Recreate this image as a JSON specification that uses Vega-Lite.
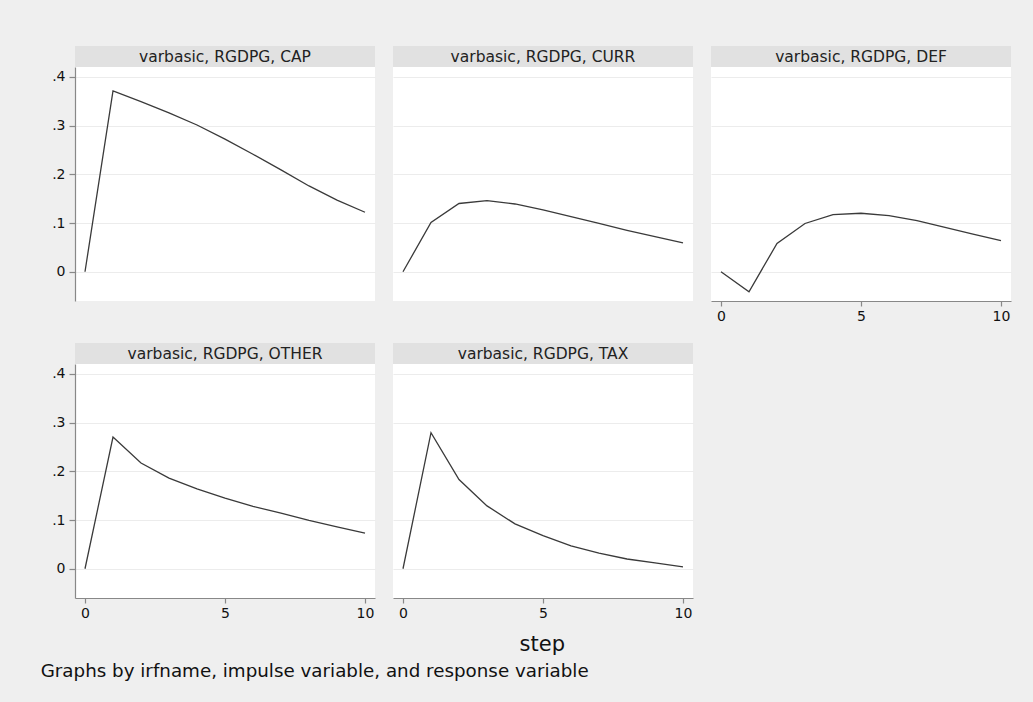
{
  "$schema": "https://vega.github.io/schema/vega-lite/v6.json",
  "background": "#efefef",
  "padding": {"left": 40, "top": 46, "right": 22, "bottom": 21},
  "datasets": {
    "irf": [
      {"panel": "CAP", "step": 0, "irf": 0}, {"panel": "CAP", "step": 1, "irf": 0.371}, {"panel": "CAP", "step": 2, "irf": 0.349}, {"panel": "CAP", "step": 3, "irf": 0.326}, {"panel": "CAP", "step": 4, "irf": 0.301}, {"panel": "CAP", "step": 5, "irf": 0.272}, {"panel": "CAP", "step": 6, "irf": 0.241}, {"panel": "CAP", "step": 7, "irf": 0.209}, {"panel": "CAP", "step": 8, "irf": 0.176}, {"panel": "CAP", "step": 9, "irf": 0.147}, {"panel": "CAP", "step": 10, "irf": 0.122},
      {"panel": "CURR", "step": 0, "irf": 0}, {"panel": "CURR", "step": 1, "irf": 0.101}, {"panel": "CURR", "step": 2, "irf": 0.140}, {"panel": "CURR", "step": 3, "irf": 0.146}, {"panel": "CURR", "step": 4, "irf": 0.139}, {"panel": "CURR", "step": 5, "irf": 0.127}, {"panel": "CURR", "step": 6, "irf": 0.113}, {"panel": "CURR", "step": 7, "irf": 0.099}, {"panel": "CURR", "step": 8, "irf": 0.085}, {"panel": "CURR", "step": 9, "irf": 0.072}, {"panel": "CURR", "step": 10, "irf": 0.059},
      {"panel": "DEF", "step": 0, "irf": 0}, {"panel": "DEF", "step": 1, "irf": -0.041}, {"panel": "DEF", "step": 2, "irf": 0.058}, {"panel": "DEF", "step": 3, "irf": 0.099}, {"panel": "DEF", "step": 4, "irf": 0.117}, {"panel": "DEF", "step": 5, "irf": 0.120}, {"panel": "DEF", "step": 6, "irf": 0.115}, {"panel": "DEF", "step": 7, "irf": 0.105}, {"panel": "DEF", "step": 8, "irf": 0.091}, {"panel": "DEF", "step": 9, "irf": 0.077}, {"panel": "DEF", "step": 10, "irf": 0.064},
      {"panel": "OTHER", "step": 0, "irf": 0}, {"panel": "OTHER", "step": 1, "irf": 0.270}, {"panel": "OTHER", "step": 2, "irf": 0.217}, {"panel": "OTHER", "step": 3, "irf": 0.186}, {"panel": "OTHER", "step": 4, "irf": 0.164}, {"panel": "OTHER", "step": 5, "irf": 0.145}, {"panel": "OTHER", "step": 6, "irf": 0.128}, {"panel": "OTHER", "step": 7, "irf": 0.114}, {"panel": "OTHER", "step": 8, "irf": 0.099}, {"panel": "OTHER", "step": 9, "irf": 0.086}, {"panel": "OTHER", "step": 10, "irf": 0.073},
      {"panel": "TAX", "step": 0, "irf": 0}, {"panel": "TAX", "step": 1, "irf": 0.279}, {"panel": "TAX", "step": 2, "irf": 0.183}, {"panel": "TAX", "step": 3, "irf": 0.129}, {"panel": "TAX", "step": 4, "irf": 0.092}, {"panel": "TAX", "step": 5, "irf": 0.068}, {"panel": "TAX", "step": 6, "irf": 0.047}, {"panel": "TAX", "step": 7, "irf": 0.032}, {"panel": "TAX", "step": 8, "irf": 0.020}, {"panel": "TAX", "step": 9, "irf": 0.012}, {"panel": "TAX", "step": 10, "irf": 0.004}
    ],
    "headers": [
      {"panel": "CAP", "label": "varbasic, RGDPG, CAP"},
      {"panel": "CURR", "label": "varbasic, RGDPG, CURR"},
      {"panel": "DEF", "label": "varbasic, RGDPG, DEF"},
      {"panel": "OTHER", "label": "varbasic, RGDPG, OTHER"},
      {"panel": "TAX", "label": "varbasic, RGDPG, TAX"}
    ]
  },
  "title": {"text": "Graphs by irfname, impulse variable, and response variable", "orient": "bottom", "anchor": "start", "fontSize": 18.3, "offset": 8, "dx": -11},
  "vconcat": [
    {
      "title": {"text": "step", "orient": "bottom", "anchor": "middle", "fontSize": 21, "offset": 14, "dx": 11},
      "columns": 3,
      "spacing": {"row": 20, "column": 18},
      "concat": [
        {
          "spacing": 0,
          "vconcat": [
            {"data": {"name": "headers"}, "transform": [{"filter": "datum.panel == 'CAP'"}], "width": 300, "height": 21, "view": {"fill": "#e1e1e1", "stroke": null}, "mark": {"type": "text"}, "encoding": {"text": {"field": "label"}}},
            {"data": {"name": "irf"}, "transform": [{"filter": "datum.panel == 'CAP'"}], "width": 300, "height": 234, "mark": {"type": "line"},
             "encoding": {
               "x": {"field": "step", "type": "quantitative", "scale": {"domain": [-0.357, 10.357], "nice": false, "zero": false}, "axis": null},
               "y": {"field": "irf", "type": "quantitative", "scale": {"domain": [-0.06, 0.42], "nice": false, "zero": false}, "axis": {"values": [0, 0.1, 0.2, 0.3, 0.4], "labelExpr": "datum.value == 0 ? '0' : replace(format(datum.value, '.1f'), '0.', '.')", "tickSize": 6, "labelPadding": 4}}
             }}
          ]
        },
        {
          "spacing": 0,
          "vconcat": [
            {"data": {"name": "headers"}, "transform": [{"filter": "datum.panel == 'CURR'"}], "width": 300, "height": 21, "view": {"fill": "#e1e1e1", "stroke": null}, "mark": {"type": "text"}, "encoding": {"text": {"field": "label"}}},
            {"data": {"name": "irf"}, "transform": [{"filter": "datum.panel == 'CURR'"}], "width": 300, "height": 234, "mark": {"type": "line"},
             "encoding": {
               "x": {"field": "step", "type": "quantitative", "scale": {"domain": [-0.357, 10.357], "nice": false, "zero": false}, "axis": null},
               "y": {"field": "irf", "type": "quantitative", "scale": {"domain": [-0.06, 0.42], "nice": false, "zero": false}, "axis": {"values": [0, 0.1, 0.2, 0.3, 0.4], "domain": false, "ticks": false, "labels": false}}
             }}
          ]
        },
        {
          "spacing": 0,
          "vconcat": [
            {"data": {"name": "headers"}, "transform": [{"filter": "datum.panel == 'DEF'"}], "width": 300, "height": 21, "view": {"fill": "#e1e1e1", "stroke": null}, "mark": {"type": "text"}, "encoding": {"text": {"field": "label"}}},
            {"data": {"name": "irf"}, "transform": [{"filter": "datum.panel == 'DEF'"}], "width": 300, "height": 234, "mark": {"type": "line"},
             "encoding": {
               "x": {"field": "step", "type": "quantitative", "scale": {"domain": [-0.357, 10.357], "nice": false, "zero": false}, "axis": {"values": [0, 5, 10], "grid": false, "tickSize": 5, "labelPadding": 3}},
               "y": {"field": "irf", "type": "quantitative", "scale": {"domain": [-0.06, 0.42], "nice": false, "zero": false}, "axis": {"values": [0, 0.1, 0.2, 0.3, 0.4], "domain": false, "ticks": false, "labels": false}}
             }}
          ]
        },
        {
          "spacing": 0,
          "vconcat": [
            {"data": {"name": "headers"}, "transform": [{"filter": "datum.panel == 'OTHER'"}], "width": 300, "height": 21, "view": {"fill": "#e1e1e1", "stroke": null}, "mark": {"type": "text"}, "encoding": {"text": {"field": "label"}}},
            {"data": {"name": "irf"}, "transform": [{"filter": "datum.panel == 'OTHER'"}], "width": 300, "height": 234, "mark": {"type": "line"},
             "encoding": {
               "x": {"field": "step", "type": "quantitative", "scale": {"domain": [-0.357, 10.357], "nice": false, "zero": false}, "axis": {"values": [0, 5, 10], "grid": false, "tickSize": 5, "labelPadding": 3}},
               "y": {"field": "irf", "type": "quantitative", "scale": {"domain": [-0.06, 0.42], "nice": false, "zero": false}, "axis": {"values": [0, 0.1, 0.2, 0.3, 0.4], "labelExpr": "datum.value == 0 ? '0' : replace(format(datum.value, '.1f'), '0.', '.')", "tickSize": 6, "labelPadding": 4}}
             }}
          ]
        },
        {
          "spacing": 0,
          "vconcat": [
            {"data": {"name": "headers"}, "transform": [{"filter": "datum.panel == 'TAX'"}], "width": 300, "height": 21, "view": {"fill": "#e1e1e1", "stroke": null}, "mark": {"type": "text"}, "encoding": {"text": {"field": "label"}}},
            {"data": {"name": "irf"}, "transform": [{"filter": "datum.panel == 'TAX'"}], "width": 300, "height": 234, "mark": {"type": "line"},
             "encoding": {
               "x": {"field": "step", "type": "quantitative", "scale": {"domain": [-0.357, 10.357], "nice": false, "zero": false}, "axis": {"values": [0, 5, 10], "grid": false, "tickSize": 5, "labelPadding": 3}},
               "y": {"field": "irf", "type": "quantitative", "scale": {"domain": [-0.06, 0.42], "nice": false, "zero": false}, "axis": {"values": [0, 0.1, 0.2, 0.3, 0.4], "domain": false, "ticks": false, "labels": false}}
             }}
          ]
        }
      ]
    }
  ],
  "config": {
    "font": "DejaVu Sans",
    "view": {"fill": "white", "stroke": null},
    "line": {"color": "#3a3a3a", "strokeWidth": 1.3},
    "text": {"font": "DejaVu Sans", "fontSize": 15.5, "color": "#222"},
    "axis": {"title": null, "labelFont": "DejaVu Sans", "labelFontSize": 14, "labelColor": "#111", "labelFlush": false, "domainColor": "#888", "domainWidth": 1.2, "tickColor": "#888", "tickWidth": 1.2, "grid": true, "gridColor": "#ececec", "gridWidth": 1.2},
    "title": {"font": "DejaVu Sans", "fontWeight": "normal", "color": "#111"}
  }
}
